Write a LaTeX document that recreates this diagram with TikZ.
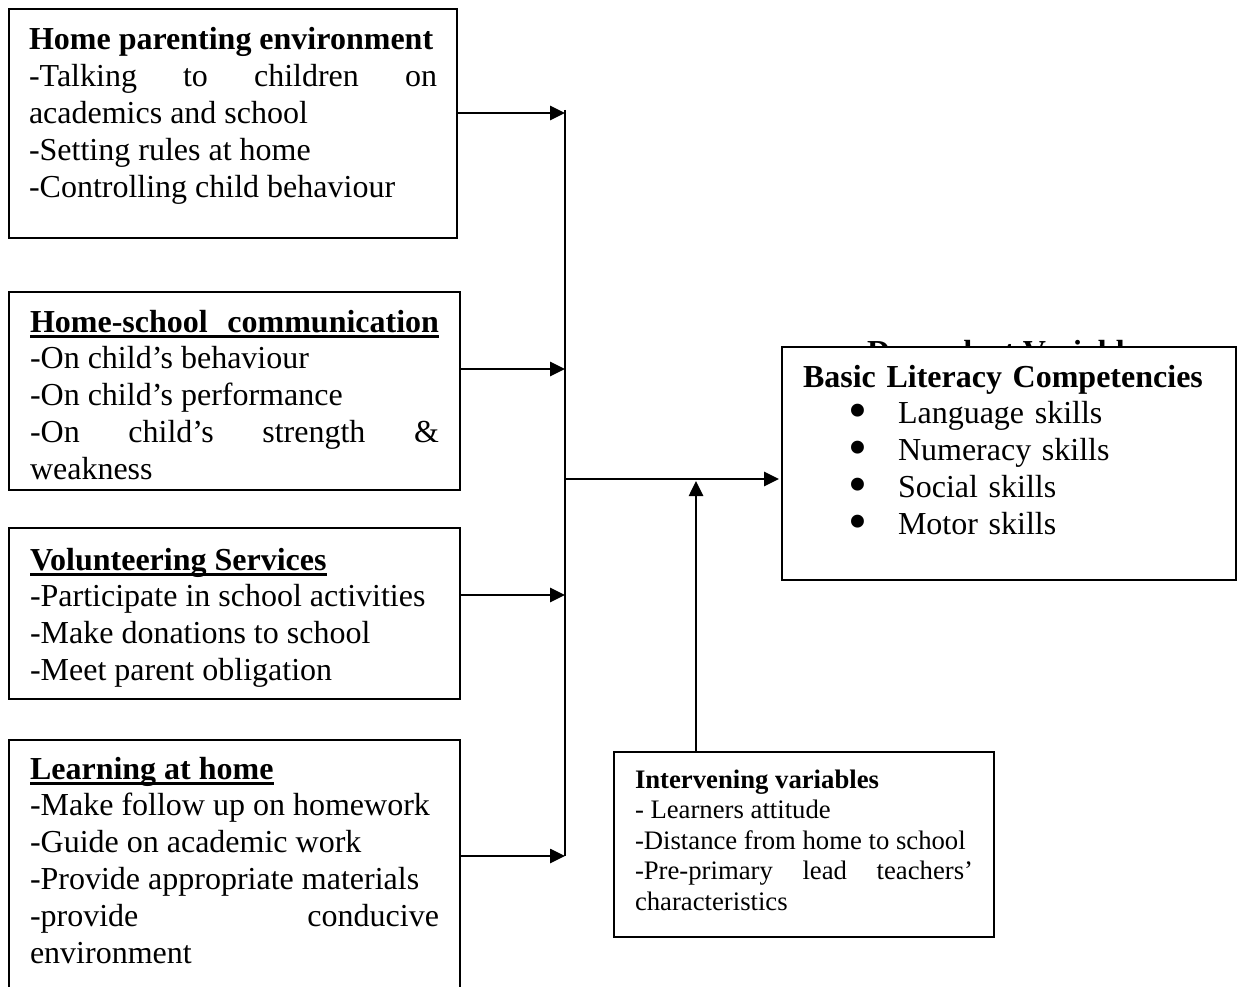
\documentclass[tikz,border=0pt]{standalone}
\usepackage{fontspec}
\setmainfont{Liberation Serif}[WordSpace={1,1,0}]
\usetikzlibrary{arrows.meta,positioning}
\tolerance=10000
\newcommand\mainsize{\fontsize{32}{36.8}\selectfont\hyphenpenalty=10000\exhyphenpenalty=10000\relax}
\newcommand\smallsize{\fontsize{26.7}{30.6}\selectfont\hyphenpenalty=10000\exhyphenpenalty=10000\relax}
\newcommand\ulbox[1]{\setbox0\hbox{#1}\rlap{\rule[-6pt]{\wd0}{2.8pt}}\box0}
\newcommand\itembullet{\makebox[95pt][l]{\hspace*{45pt}\raisebox{-5pt}{\fontsize{54}{36.8}\selectfont\textbullet}}}

\begin{document}
\begin{tikzpicture}[x=1pt,y=-1pt,
    varbox/.style={draw, line width=2pt, anchor=north west, align=justify, outer sep=0pt,
                   inner xsep=21pt, inner ysep=0pt, text width=409pt, font=\mainsize},
    flow/.style={-{Triangle[length=15pt,width=14pt]}, line width=2.6pt},
    bus/.style={line width=2.6pt}]

    \useasboundingbox (0,0) rectangle (1242,987);
    \clip (0,0) rectangle (1242,987);

    % Variables indépendantes, placées les unes sous les autres
    \node[varbox, inner xsep=20pt, text width=408pt, text height=41pt, text depth=188pt] (hpe) at (9,9)
        {\textbf{Home parenting environment}\\
         -Talking to children on academics and school\\
         -Setting rules at home\\
         -Controlling child behaviour};
    \node[varbox, below=54pt of hpe.south west, anchor=north west,
          text height=40pt, text depth=158pt] (hsc)
        {\ulbox{\makebox[409pt][s]{\bfseries Home-school communication}}\\
         -On child’s behaviour\\
         -On child’s performance\\
         -On child’s strength \& weakness\\};
    \node[varbox, below=38pt of hsc.south west, anchor=north west,
          text height=42pt, text depth=129pt] (vol)
        {\ulbox{\bfseries Volunteering Services}\\
         -Participate in school activities\\
         -Make donations to school\\
         -Meet parent obligation};
    \node[varbox, below=41pt of vol.south west, anchor=north west,
          text height=39pt, text depth=300pt] (lah)
        {\ulbox{\bfseries Learning at home}\\
         -Make follow up on homework\\
         -Guide on academic work\\
         -Provide appropriate materials\\
         -provide conducive\linebreak environment\\};

    % Variable dépendante (titre caché par la boîte)
    \node[anchor=base west, inner sep=0pt, font=\mainsize\bfseries] (dv) at (867,362)
        {Dependent Variable};
    \node[varbox, align=left, fill=white, text width=412pt,
          text height=40pt, text depth=193pt] (blc) at (782,347)
        {\textbf{Basic Literacy Competencies}\\
         \itembullet Language skills\\
         \itembullet Numeracy skills\\
         \itembullet Social skills\\
         \itembullet Motor skills};

    % Variables intermédiaires
    \node[varbox, font=\smallsize, text width=338pt,
          text height=36pt, text depth=149pt] (iv) at (614,752)
        {\textbf{Intervening variables}\\
         - Learners attitude\\
         -Distance from home to school\\
         -Pre-primary lead teachers’ characteristics};

    % Points de jonction
    \coordinate (bustop) at (565,110);
    \coordinate (j1) at (565,113);
    \coordinate (j2) at (565,369);
    \coordinate (j3) at (565,595);
    \coordinate (j4) at (565,856);
    \coordinate (jm) at (565,479);
    \coordinate (ji) at (696,481);

    % Flèches
    \draw[bus] (bustop) -- (j4);
    \draw[flow] (hpe.east |- j1) -- (j1);
    \draw[flow] (hsc.east |- j2) -- (j2);
    \draw[flow] (vol.east |- j3) -- (j3);
    \draw[flow] (lah.east |- j4) -- (j4);
    \draw[flow, shorten >=3pt] (jm) -- (blc.west |- jm);
    \draw[flow] (iv.north -| ji) -- (ji);

\end{tikzpicture}
\end{document}
